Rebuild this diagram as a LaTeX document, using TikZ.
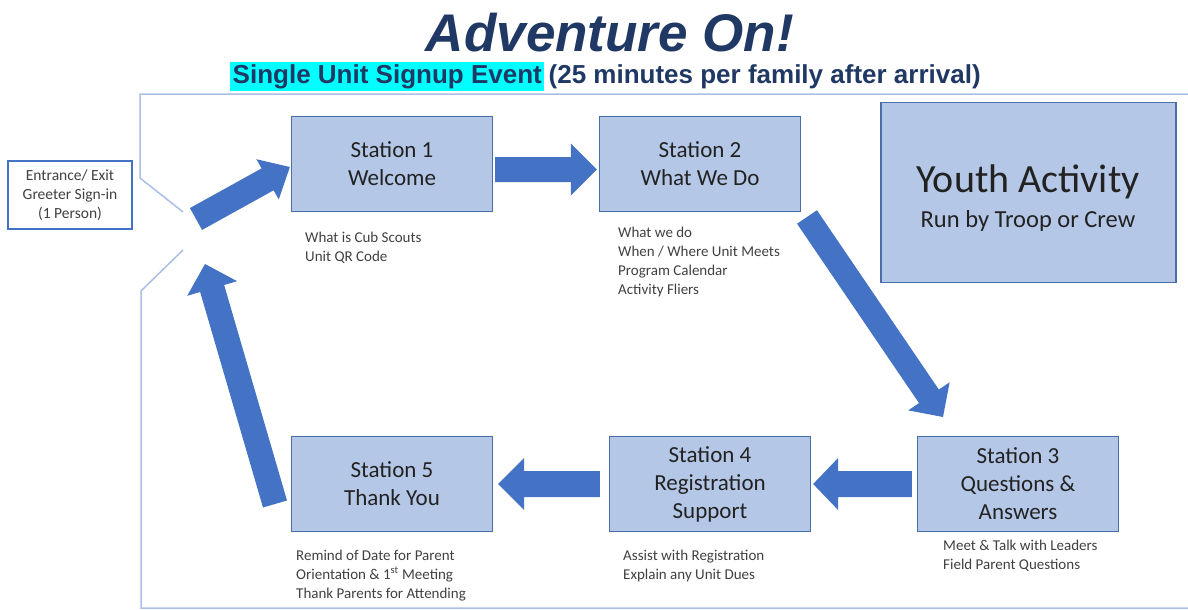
\documentclass[tikz,border=0pt]{standalone}
\usepackage{fontspec}
\setmainfont{Carlito}
\newfontfamily\arialfont{Liberation Sans}
\usetikzlibrary{calc}

\definecolor{stationfill}{HTML}{B4C7E7}
\definecolor{stationline}{HTML}{4A6FA8}
\definecolor{arrowblue}{HTML}{4472C4}
\definecolor{navy}{HTML}{1F3864}
\definecolor{roomline}{HTML}{A9BFE6}
\definecolor{bodytext}{HTML}{222222}
\definecolor{notetext}{HTML}{404040}
\definecolor{hilite}{HTML}{00FFFF}

\tikzset{
  station/.style={draw=stationline, line width=1.2pt, fill=stationfill,
    minimum width=201pt, minimum height=95pt, inner sep=0pt, align=center,
    font=\fontsize{23}{28}\selectfont, text=bodytext},
  % notes are placed by the baseline of their last line
  note/.style={anchor=base west, align=left, inner sep=0pt,
    font=\fontsize{15}{19}\selectfont, text=notetext},
  room/.style={draw=roomline, line width=1.5pt},
}

% fat block arrow: tail, tip, half shaft width, half head width, head length
\newcommand\blockarrow[5]{%
  \coordinate (headbase) at ($(#2)!#5!(#1)$);
  \fill[arrowblue] ($(#1)!#3!90:(#2)$) -- ($(headbase)!#3!90:(#2)$)
    -- ($(headbase)!#4!90:(#2)$) -- (#2) -- ($(headbase)!#4!-90:(#2)$)
    -- ($(headbase)!#3!-90:(#2)$) -- ($(#1)!#3!-90:(#2)$) -- cycle;
}

\begin{document}
\begin{tikzpicture}[x=1pt,y=-1pt]
\useasboundingbox (0,0) rectangle (1188,610);

% heading
\node[anchor=base, inner sep=0pt, text=navy,
  font=\fontsize{53}{56}\arialfont\bfseries\itshape] (title) at (610,52) {Adventure On!};
\node[anchor=base west, inner sep=0pt, text=navy,
  font=\fontsize{26}{30}\arialfont\bfseries] (subtitle) at (230,83)
  {\setlength\fboxsep{2.5pt}\colorbox{hilite}{Single Unit Signup Event}\,(25 minutes per family after arrival)};

% room walls with the doorway on the left
\draw[room] (1188,94) -- (140,94) -- (140,178) -- (183,212);
\draw[room] (183,250) -- (141,291) -- (141,608) -- (1188,608);

% entrance
\node[draw=arrowblue, line width=1.5pt, fill=white, minimum width=124pt,
  minimum height=68pt, inner sep=0pt, align=center, text=notetext,
  font=\fontsize{15.5}{19}\selectfont] (entrance) at (70,195)
  {Entrance/ Exit\\Greeter Sign-in\\(1 Person)};

% stations
\node[station] (s1) at (392,164) {Station 1\\Welcome};
\node[station] (s2) at (700,164) {Station 2\\What We Do};
\node[station] (s3) at (1018,484) {Station 3\\Questions \&\\Answers};
\node[station] (s4) at (710,484) {Station 4\\Registration\\Support};
\node[station] (s5) at (392,484) {Station 5\\Thank You};

% youth activity area
\node[draw=stationline, line width=1.2pt, fill=stationfill, minimum width=295pt,
  minimum height=180pt, inner sep=0pt] (youth) at (1028.5,192.5) {};
\node[anchor=base, inner sep=0pt, text=bodytext, font=\fontsize{40}{44}\selectfont]
  (youthtitle) at (1028,192) {Youth Activity};
\node[anchor=base, inner sep=0pt, text=bodytext, font=\fontsize{24.5}{28}\selectfont]
  (youthsub) at (1028,227) {Run by Troop or Crew};

% station notes
\node[note] (n1) at (305,261) {What is Cub Scouts\\Unit QR Code};
\node[note] (n2) at (618,294) {What we do\\When / Where Unit Meets\\Program Calendar\\Activity Fliers};
\node[note] (n3) at (943,569) {Meet \& Talk with Leaders\\Field Parent Questions};
\node[note] (n4) at (623,579) {Assist with Registration\\Explain any Unit Dues};
\node[note] (n5) at (296,598) {Remind of Date for Parent\\Orientation \& 1\textsuperscript{st} Meeting\\Thank Parents for Attending};

% arrow ends
\coordinate (a1tail) at ($(s1.east)+(2,5.5)$);
\coordinate (a1tip)  at ($(s2.west)+(-2,5.5)$);
\coordinate (a2tail) at (807,217);
\coordinate (a2tip)  at (943,417);
\coordinate (a3tail) at ($(s3.west)+(-5,0)$);
\coordinate (a3tip)  at ($(s4.east)+(2,0)$);
\coordinate (a4tail) at ($(s4.west)+(-9,0)$);
\coordinate (a4tip)  at ($(s5.east)+(5,0)$);
\coordinate (a5tail) at (275,504);
\coordinate (a5tip)  at (205,264);
\coordinate (a6tail) at (196,219);
\coordinate (a6tip)  at ($(s1.west)+(-1,3)$);

% flow arrows
\blockarrow{a1tail}{a1tip}{12.5pt}{26pt}{26pt}
\blockarrow{a2tail}{a2tip}{12pt}{25pt}{25pt}
\blockarrow{a3tail}{a3tip}{13pt}{26pt}{25pt}
\blockarrow{a4tail}{a4tip}{13pt}{26pt}{26pt}
\blockarrow{a5tail}{a5tip}{12.5pt}{26pt}{25.5pt}
\blockarrow{a6tail}{a6tip}{12.5pt}{23pt}{25.5pt}
\end{tikzpicture}
\end{document}
